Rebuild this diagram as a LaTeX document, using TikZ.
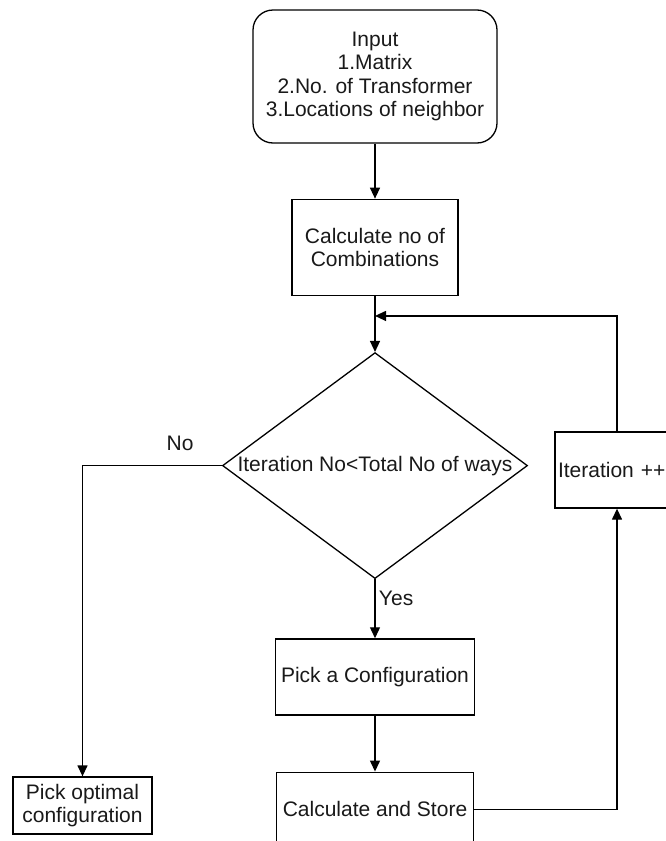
\documentclass[tikz,border=0pt]{standalone}
\usepackage{fontspec}
\setmainfont{Liberation Sans}
\usetikzlibrary{shapes.geometric,arrows.meta,positioning,calc}

\begin{document}
\begin{tikzpicture}[
    x=1pt, y=-1pt,
    line width=1.3pt,
    >={Triangle[length=11pt,width=10pt]},
    every node/.style={font=\fontsize{21}{23.5}\selectfont, text=black!90},
    box/.style={rectangle, draw, align=center, inner sep=2pt},
    start/.style={box, rounded corners=20pt},
    decision/.style={diamond, draw, aspect=1.35, inner sep=0pt, minimum width=305pt, minimum height=226pt}
]
    \useasboundingbox (0,0) rectangle (666,841);
    \clip (0,0) rectangle (666,841);

    % Main column
    \node[start, minimum width=244pt, minimum height=133pt] (input) at (375,76.5)
        {Input\\1.Matrix\\2.No. of Transformer\\3.Locations of neighbor};
    \node[box, below=55pt of input, minimum width=166pt, minimum height=96pt] (calc)
        {Calculate no of\\Combinations};
    \node[decision, below=56pt of calc] (check) {Iteration No<Total No of ways};
    \node[box, below=59pt of check, minimum width=199pt, minimum height=76pt] (pick)
        {Pick a Configuration};
    \node[box, below=56pt of pick, minimum width=197pt, minimum height=74pt] (store)
        {Calculate and Store};

    % Loop and exit
    \node[box, align=left, text width=118pt, inner sep=3pt, minimum height=76pt] (iter) at (617,470)
        {Iteration ++};
    \node[box, minimum width=139pt, minimum height=57pt] (optimal) at (82.5,805.5)
        {Pick optimal\\configuration};
    \coordinate (merge) at ($(calc.south)+(0,-20pt)$);

    % Edges
    \draw[->] (input) -- (calc);
    \draw[->] (calc) -- (check);
    \draw[->] (check.south) -- node[right, pos=0.32] {Yes} (pick);
    \draw[->] (pick) -- (store);
    \draw[->] (store.east) -| (iter.south);
    \draw[->] (iter.north) |- (merge);
    \draw[->] (check.west) -| node[above=11pt, pos=0.15] {No} (optimal.north);
\end{tikzpicture}
\end{document}
